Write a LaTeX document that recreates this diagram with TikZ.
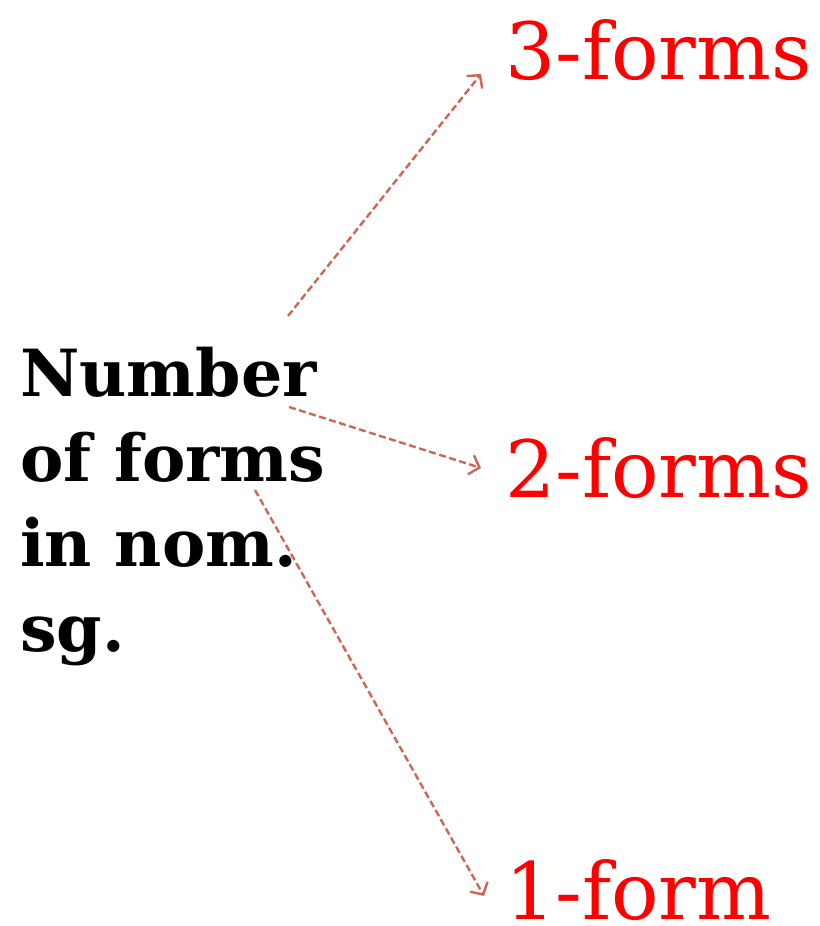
\documentclass[tikz,border=0pt]{standalone}
\usepackage{fontspec}
\setmainfont{DejaVu Serif}
\usetikzlibrary{arrows.meta}
\definecolor{linkred}{RGB}{206,102,84}
\definecolor{formred}{RGB}{255,0,0}
\begin{document}
\begin{tikzpicture}[x=1pt,y=1pt,
  every node/.style={inner sep=0pt,anchor=base west},
  feature/.style={font=\fontsize{65}{85}\selectfont\bfseries,align=left},
  value/.style={font=\fontsize{79}{90}\selectfont,text=formred},
  link/.style={draw=linkred,line width=2.4pt,dash pattern=on 7pt off 3.5pt,-{Straight Barb[length=9pt,width=20pt,line width=2.4pt]}}]
  \useasboundingbox (0,0) rectangle (819,926);
  % last line of the node sits on the base anchor
  \node[feature] (feat) at (20,274) {Number\\of forms\\in nom.\\sg.};
  \node[value] (three) at (505,846) {3-forms};
  \node[value] (two) at (505,428) {2-forms};
  \node[value] (one) at (505,6) {1-form};
  \coordinate (from3) at (288,610);
  \coordinate (from2) at (289,519);
  \coordinate (from1) at (255,436);
  \draw[link] (from3) -- ([xshift=-24pt,yshift=6pt]three.base west);
  \draw[link] (from2) -- ([xshift=-24pt,yshift=30pt]two.base west);
  \draw[link] (from1) -- ([xshift=-21pt,yshift=24pt]one.base west);
\end{tikzpicture}
\end{document}
